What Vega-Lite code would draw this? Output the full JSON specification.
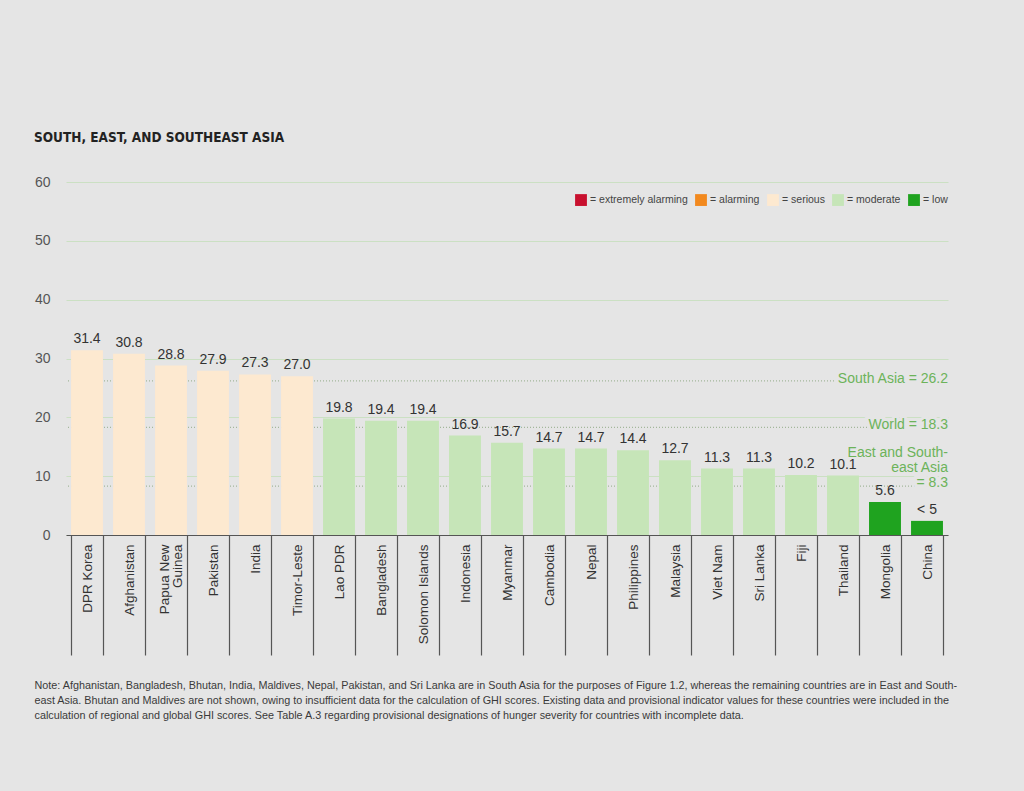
{
  "$schema": "https://vega.github.io/schema/vega-lite/v6.json",
  "width": 882,
  "height": 353,
  "autosize": {"type": "none"},
  "padding": {"left": 66, "top": 182, "right": 76, "bottom": 256},
  "background": "#e5e5e5",
  "config": {"view": {"stroke": null}, "font": "Liberation Sans"},
  "title": {
    "text": "SOUTH, EAST, AND SOUTHEAST ASIA",
    "anchor": "start",
    "frame": "group",
    "dx": -32,
    "offset": 20,
    "baseline": "alphabetic",
    "font": "'DejaVu Sans Condensed', 'Liberation Sans'",
    "fontSize": 13.5,
    "fontWeight": "bold",
    "color": "#222222"
  },
  "datasets": {
    "bars": [
      {"country": "DPR Korea", "ghi": 31.4, "severity": "serious", "label": "31.4"},
      {"country": "Afghanistan", "ghi": 30.8, "severity": "serious", "label": "30.8"},
      {"country": "Papua New Guinea", "ghi": 28.8, "severity": "serious", "label": "28.8"},
      {"country": "Pakistan", "ghi": 27.9, "severity": "serious", "label": "27.9"},
      {"country": "India", "ghi": 27.3, "severity": "serious", "label": "27.3"},
      {"country": "Timor-Leste", "ghi": 27.0, "severity": "serious", "label": "27.0"},
      {"country": "Lao PDR", "ghi": 19.8, "severity": "moderate", "label": "19.8"},
      {"country": "Bangladesh", "ghi": 19.4, "severity": "moderate", "label": "19.4"},
      {"country": "Solomon Islands", "ghi": 19.4, "severity": "moderate", "label": "19.4"},
      {"country": "Indonesia", "ghi": 16.9, "severity": "moderate", "label": "16.9"},
      {"country": "Myanmar", "ghi": 15.7, "severity": "moderate", "label": "15.7"},
      {"country": "Cambodia", "ghi": 14.7, "severity": "moderate", "label": "14.7"},
      {"country": "Nepal", "ghi": 14.7, "severity": "moderate", "label": "14.7"},
      {"country": "Philippines", "ghi": 14.4, "severity": "moderate", "label": "14.4"},
      {"country": "Malaysia", "ghi": 12.7, "severity": "moderate", "label": "12.7"},
      {"country": "Viet Nam", "ghi": 11.3, "severity": "moderate", "label": "11.3"},
      {"country": "Sri Lanka", "ghi": 11.3, "severity": "moderate", "label": "11.3"},
      {"country": "Fiji", "ghi": 10.2, "severity": "moderate", "label": "10.2"},
      {"country": "Thailand", "ghi": 10.1, "severity": "moderate", "label": "10.1"},
      {"country": "Mongolia", "ghi": 5.6, "severity": "low", "label": "5.6"},
      {"country": "China", "ghi": 2.4, "severity": "low", "label": "< 5"}
    ],
    "refs": [
      {"region": "South Asia", "value": 26.2, "label": "South Asia = 26.2", "lines": 1},
      {"region": "World", "value": 18.3, "label": "World = 18.3", "lines": 1},
      {"region": "East and Southeast Asia", "value": 8.3, "label": "East and South-\neast Asia\n= 8.3", "lines": 3}
    ]
  },
  "layer": [
    {
      "data": {"name": "refs"},
      "mark": {"type": "rule", "color": "#a3b79b", "strokeDash": [1, 2], "strokeWidth": 1.2},
      "encoding": {
        "y": {"field": "value", "type": "quantitative", "scale": {"domain": [0, 60], "nice": false}}
      }
    },
    {
      "data": {"name": "bars"},
      "mark": {"type": "bar"},
      "encoding": {
        "x": {
          "field": "country",
          "type": "nominal",
          "sort": null,
          "scale": {"paddingInner": 0.24, "paddingOuter": 0.12},
          "axis": {
            "domainColor": "#555555",
            "domainWidth": 1.2,
            "tickBand": "extent",
            "tickSize": 120,
            "tickColor": "#555555",
            "tickWidth": 1.2,
            "labelAngle": 270,
            "labelAlign": "right",
            "labelBaseline": "middle",
            "labelPadding": -111,
            "labelFontSize": 13.5,
            "labelLineHeight": 13,
            "labelOffset": {"condition": {"test": "datum.value == 'Papua New Guinea'", "value": -7}, "value": 0},
            "labelColor": "#333333",
            "labelExpr": "datum.value == 'Papua New Guinea' ? ['Papua New', 'Guinea'] : datum.label",
            "title": [
              "Note: Afghanistan, Bangladesh, Bhutan, India, Maldives, Nepal, Pakistan, and Sri Lanka are in South Asia for the purposes of Figure 1.2, whereas the remaining countries are in East and South-",
              "east Asia. Bhutan and Maldives are not shown, owing to insufficient data for the calculation of GHI scores. Existing data and provisional indicator values for these countries were included in the",
              "calculation of regional and global GHI scores. See Table A.3 regarding provisional designations of hunger severity for countries with incomplete data."
            ],
            "titleFont": "Liberation Sans",
            "titleFontSize": 10.8,
            "titleFontWeight": "normal",
            "titleColor": "#3a3a3a",
            "titleAlign": "left",
            "titleAnchor": "start",
            "titleBaseline": "top",
            "titleLineHeight": 15,
            "titleX": -32,
            "titleY": 144
          }
        },
        "y": {
          "field": "ghi",
          "type": "quantitative",
          "scale": {"domain": [0, 60], "nice": false},
          "axis": {
            "values": [0, 10, 20, 30, 40, 50, 60],
            "domain": false,
            "ticks": false,
            "gridColor": "#cbe0c3",
            "gridWidth": 1.2,
            "labelPadding": 16,
            "labelFontSize": 14,
            "labelColor": "#555555",
            "title": null
          }
        },
        "color": {
          "field": "severity",
          "type": "nominal",
          "scale": {
            "domain": ["extremely alarming", "alarming", "serious", "moderate", "low"],
            "range": ["#c8102e", "#f2891e", "#fde9d0", "#c6e5b8", "#1fa31f"]
          },
          "legend": {
            "orient": "none",
            "legendX": 509,
            "legendY": 12,
            "direction": "horizontal",
            "title": null,
            "symbolType": "square",
            "symbolSize": 140,
            "symbolStrokeWidth": 0,
            "symbolOpacity": 1,
            "labelExpr": "'= ' + datum.label",
            "labelFontSize": 10.5,
            "labelColor": "#444444",
            "labelOffset": 3,
            "columnPadding": 7
          }
        }
      }
    },
    {
      "data": {"name": "refs"},
      "transform": [{"filter": "datum.lines == 1"}],
      "mark": {"type": "text", "align": "right", "baseline": "middle", "dy": -2, "fontSize": 14, "stroke": "#e5e5e5", "strokeWidth": 6, "fill": "#e5e5e5"},
      "encoding": {
        "x": {"value": "width"},
        "y": {"field": "value", "type": "quantitative"},
        "text": {"field": "label"}
      }
    },
    {
      "data": {"name": "refs"},
      "transform": [{"filter": "datum.lines == 3"}],
      "mark": {"type": "text", "align": "right", "baseline": "middle", "dy": -33, "lineBreak": "\n", "lineHeight": 15, "fontSize": 14, "stroke": "#e5e5e5", "strokeWidth": 6, "fill": "#e5e5e5"},
      "encoding": {
        "x": {"value": "width"},
        "y": {"field": "value", "type": "quantitative"},
        "text": {"field": "label"}
      }
    },
    {
      "data": {"name": "bars"},
      "mark": {"type": "text", "baseline": "bottom", "dy": -4, "fontSize": 14, "color": "#333333"},
      "encoding": {
        "x": {"field": "country", "type": "nominal", "sort": null},
        "y": {"field": "ghi", "type": "quantitative"},
        "text": {"field": "label"}
      }
    },
    {
      "data": {"name": "refs"},
      "transform": [{"filter": "datum.lines == 1"}],
      "mark": {"type": "text", "align": "right", "baseline": "middle", "dy": -2, "fontSize": 14, "color": "#6cb35a"},
      "encoding": {
        "x": {"value": "width"},
        "y": {"field": "value", "type": "quantitative"},
        "text": {"field": "label"}
      }
    },
    {
      "data": {"name": "refs"},
      "transform": [{"filter": "datum.lines == 3"}],
      "mark": {"type": "text", "align": "right", "baseline": "middle", "dy": -33, "lineBreak": "\n", "lineHeight": 15, "fontSize": 14, "color": "#6cb35a"},
      "encoding": {
        "x": {"value": "width"},
        "y": {"field": "value", "type": "quantitative"},
        "text": {"field": "label"}
      }
    }
  ],
  "resolve": {"scale": {"y": "shared"}}
}
